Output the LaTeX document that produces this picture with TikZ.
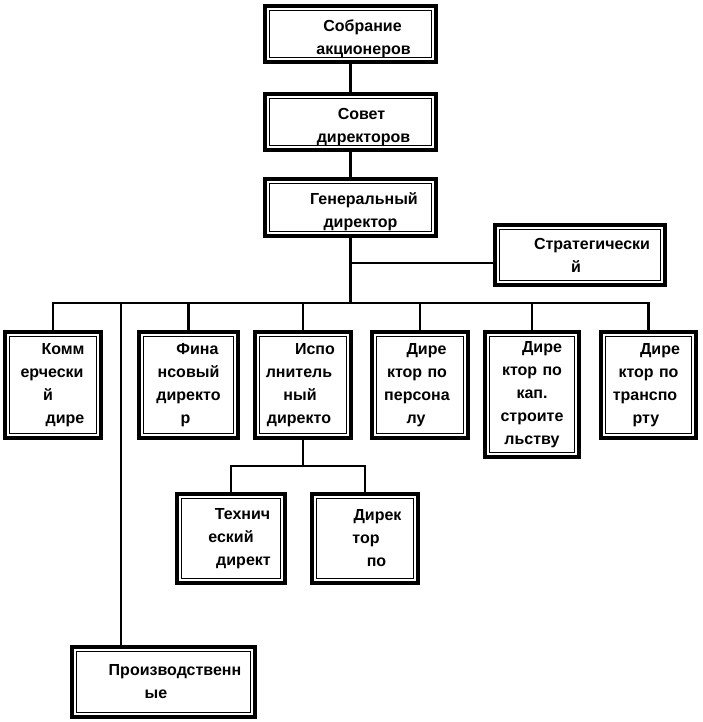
\documentclass[tikz,border=0pt]{standalone}
\usepackage{fontspec}
\setmainfont{Liberation Sans}
\usepackage{xcolor}
\usepackage{tikz}
\newcommand{\sh}[1]{\hspace*{#1pt}}
\newcommand{\lift}{\rule{0pt}{21pt}}

\begin{document}
\begin{tikzpicture}[x=1pt, y=-1pt,
  box/.style={draw=black, line width=4pt, fill=white, inner sep=0pt, outer sep=0pt, align=center, font=\bfseries\fontsize{16}{23}\selectfont},
  inner/.style={draw=black, line width=0.9pt},
  conn/.style={draw=black, line width=2.6pt}
]
\useasboundingbox (0,0) rectangle (702,722);

% Top chain
\node[box, text width=171pt, minimum height=56pt] (sobr) at (350.5, 34) {\lift\sh{24}Собрание\\\sh{26}акционеров};
\node[box, text width=171pt, minimum height=56pt] (sovet) at (350.5, 122) {\lift\sh{22}Совет\\\sh{26}директоров};
\node[box, text width=171pt, minimum height=57pt] (gen) at (350.5, 207.5) {\lift\sh{27}Генеральный\\\sh{20}директор};

% Staff
\node[box, text width=170pt, minimum height=60pt] (strat) at (580, 255) {\sh{24}Стратегически\\\sh{-8}й};

% Directors
\node[box, text width=96pt, minimum height=106pt] (komm) at (53, 385) {\sh{20}Комм\\\sh{-2}ерчески\\\sh{-10}й\\\sh{24}дире};
\node[box, text width=99pt, minimum height=106pt] (fin) at (188.5, 385) {\sh{18}Фина\\нсовый\\директо\\\sh{-6}р};
\node[box, text width=96pt, minimum height=106pt] (ispo) at (303, 385) {\sh{24}Испо\\\sh{-8}лнитель\\\sh{-6}ный\\\sh{-8}директо};
\node[box, text width=96pt, minimum height=106pt] (pers) at (420, 385) {\sh{13}Дире\\\sh{-6}ктор по\\\sh{-6}персона\\\sh{-8}лу};
\node[box, text width=94pt, minimum height=125pt] (kap) at (532, 394.5) {\sh{20}Дире\\ктор по\\кап.\\строите\\льству};
\node[box, text width=95pt, minimum height=106pt] (trans) at (648.5, 385) {\sh{23}Дире\\ктор по\\\sh{-7}транспо\\\sh{-5}рту};

% Under the executive director
\node[box, text width=108pt, minimum height=89pt] (tech) at (231, 538.5) {\sh{23}Технич\\еский\\\sh{25}директ};
\node[box, text width=106pt, minimum height=89pt] (dirpo) at (365, 538.5) {\sh{25}Дирек\\\sh{2}тор\\\sh{23}по};

% Production
\node[box, text width=183pt, minimum height=70pt] (proizv) at (163.5, 682) {\sh{23}Производственн\\\sh{-15}ые};

% thin inner frames
\foreach \n in {sobr, sovet, gen, strat, komm, fin, ispo, pers, kap, trans, tech, dirpo, proizv}
  \draw[inner] ([shift={(4.5pt,-4.5pt)}]\n.north west) rectangle ([shift={(-4.5pt,4.5pt)}]\n.south east);

% Lines
\coordinate (bus) at (350.5, 303);
\coordinate (sub) at (303, 466);
\coordinate (pdrop) at ([xshift=-42.5pt]proizv.north);
\draw[conn] (sobr.south) -- (sovet.north);
\draw[conn] (sovet.south) -- (gen.north);
\draw[conn] (gen.south) |- ([yshift=-8pt]strat.west);
\draw[conn] (gen.south) -- (bus);
\draw[conn] (komm.north) |- (bus) -| (trans.north);
\foreach \n in {fin, ispo, pers, kap}
  \draw[conn] (\n.north) -- (\n.north |- bus);
\draw[conn] (pdrop) -- (pdrop |- bus);
\draw[conn] (ispo.south) -- (sub);
\draw[conn] (tech.north) |- (sub) -| (dirpo.north);

\end{tikzpicture}
\end{document}
